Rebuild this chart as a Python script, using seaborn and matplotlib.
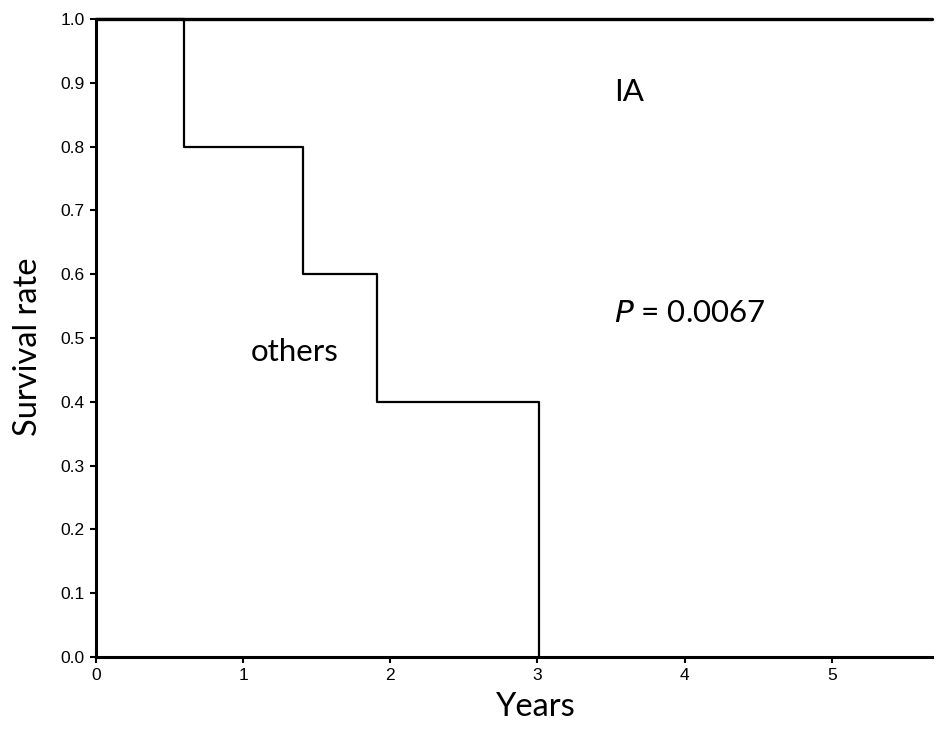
import matplotlib
matplotlib.use("Agg")
import matplotlib.pyplot as plt
import seaborn as sns
import pandas as pd

# Data: Kaplan-Meier curves (step points)
others_years = [0.0, 0.60, 1.41, 1.91, 3.01]
others_surv = [1.0, 0.8, 0.6, 0.4, 0.0]
ia_years = [0.0, 5.68]
ia_surv = [1.0, 1.0]
xticks = [0, 1, 2, 3, 4, 5]
yticks = [0.0, 0.1, 0.2, 0.3, 0.4, 0.5, 0.6, 0.7, 0.8, 0.9, 1.0]

sns.set_theme(style="ticks")
plt.rcParams['font.family'] = ['Liberation Sans', 'DejaVu Sans']
plt.rcParams['text.color'] = 'black'
plt.rcParams['axes.labelcolor'] = 'black'

fig = plt.figure(figsize=(9.45, 7.33), dpi=100)
ax = fig.add_axes([0.1016, 0.1037, 0.8844, 0.8703])

df_o = pd.DataFrame({"Years": others_years, "Survival": others_surv})
df_i = pd.DataFrame({"Years": ia_years, "Survival": ia_surv})

sns.lineplot(data=df_o, x="Years", y="Survival", drawstyle="steps-post",
             color="black", linewidth=1.6, ax=ax, clip_on=False)
sns.lineplot(data=df_i, x="Years", y="Survival", drawstyle="steps-post",
             color="black", linewidth=2.4, ax=ax, clip_on=False)

ax.set_xlim(0, 5.68)
ax.set_ylim(0, 1.0)
ax.set_xticks(xticks)
ax.set_yticks(yticks)
ax.set_xticklabels([str(t) for t in xticks])
ax.set_yticklabels([f"{t:.1f}" for t in yticks])
ax.tick_params(axis="both", direction="out", length=4, width=1.5,
               labelsize=12.5, colors="black", pad=4)

for s in ["top", "right"]:
    ax.spines[s].set_visible(False)
for s in ["left", "bottom"]:
    ax.spines[s].set_linewidth(2.2)
    ax.spines[s].set_color("black")

lab_font = ['Lato', 'DejaVu Sans']
ax.set_xlabel("Years", fontsize=23.5, family=lab_font, color="black")
ax.set_ylabel("Survival rate", fontsize=23.5, family=lab_font, color="black")
ax.xaxis.set_label_coords(0.526, -0.055)
ax.yaxis.set_label_coords(-0.063, 0.486)

ax.text(3.52, 0.885, "IA", fontsize=22.5, family=lab_font, va="center", ha="left", color="black")
ax.text(3.52, 0.54, "$\\mathit{P}$ = 0.0067", fontsize=22.5, family=lab_font,
        va="center", ha="left", color="black")
ax.text(1.05, 0.478, "others", fontsize=22.5, family=lab_font, va="center", ha="left", color="black")

fig.savefig("out.png", dpi=100, facecolor="white")
